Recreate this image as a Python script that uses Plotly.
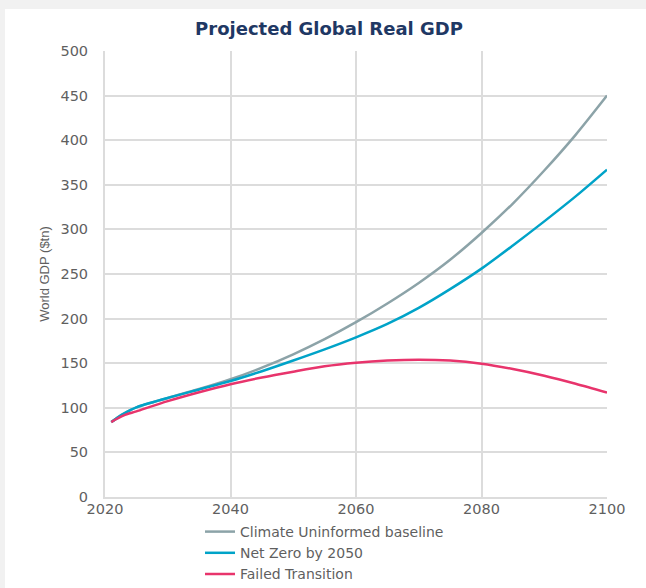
import plotly.graph_objects as go

years = [2021, 2022, 2023, 2025, 2030, 2035, 2040, 2045, 2050, 2055, 2060,
         2065, 2070, 2075, 2080, 2085, 2090, 2095, 2100]
baseline = [84, 89, 93.5, 100.5, 111, 121, 132, 145, 160, 177, 196,
            217, 240, 266, 296, 329, 366, 406, 450]
net_zero = [84, 89, 93.5, 100.5, 111, 120.5, 130, 141, 153, 165.5, 179,
            194, 212, 233, 256, 282, 309, 337, 367]
failed = [84, 88, 91.5, 96, 107.5, 117.5, 126.5, 134, 140.5, 146.5, 150.5,
          153, 154, 153, 149.5, 143.5, 136, 127, 117]

series_names = ["Climate Uninformed baseline", "Net Zero by 2050", "Failed Transition"]
series_values = [baseline, net_zero, failed]
series_colors = ["#8ca3a8", "#00a3c8", "#e8346c"]

x_ticks = [2020, 2040, 2060, 2080, 2100]
y_ticks = [0, 50, 100, 150, 200, 250, 300, 350, 400, 450, 500]

W, H = 646, 588
L, R, T, B = 105, 39, 51, 91
pw, ph = W - L - R, H - T - B


def px_x(px):
    return (px - L) / pw


def px_y(py):
    return (H - B - py) / ph


fig = go.Figure()
for name, vals, col in zip(series_names, series_values, series_colors):
    fig.add_trace(go.Scatter(
        x=years, y=vals, name=name, mode="lines",
        line=dict(color=col, width=2.5, shape="spline", smoothing=0.8),
    ))

tick_font = dict(family="DejaVu Sans", size=14.5, color="#5f5f5f")
grid_col = "#dcdcdc"

fig.update_layout(
    width=W, height=H,
    margin=dict(l=L, r=R, t=T, b=B, autoexpand=False),
    paper_bgcolor="#f1f1f1",
    plot_bgcolor="white",
    title=dict(text="<b>Projected Global Real GDP</b>",
               font=dict(family="DejaVu Sans", size=18, color="#1f3864"),
               x=329 / W, xanchor="center", y=1 - 29 / H, yanchor="middle"),
    xaxis=dict(range=[2020, 2100], tickvals=x_ticks, ticktext=[str(v) for v in x_ticks],
               showgrid=True, gridcolor=grid_col, gridwidth=2,
               showline=True, linecolor=grid_col, linewidth=2,
               zeroline=False, ticks="", tickfont=tick_font,
               ticklabelstandoff=-2, fixedrange=True),
    yaxis=dict(range=[0, 500], tickvals=y_ticks, ticktext=[str(v) for v in y_ticks],
               showgrid=True, gridcolor=grid_col, gridwidth=2,
               showline=True, linecolor=grid_col, linewidth=2,
               zeroline=False, ticks="", tickfont=tick_font,
               ticklabelstandoff=12,
               title=dict(text="World GDP ($tn)", standoff=8,
                          font=dict(family="Liberation Sans", size=13, color="#5f5f5f")),
               fixedrange=True),
    legend=dict(x=px_x(200), xanchor="left", y=px_y(516), yanchor="top",
                orientation="v", bgcolor="rgba(0,0,0,0)",
                font=dict(family="DejaVu Sans", size=14, color="#5f5f5f"),
                itemclick=False, itemdoubleclick=False),
    shapes=[dict(type="rect", xref="paper", yref="paper", layer="below",
                 x0=px_x(5), x1=px_x(W + 20), y0=px_y(H + 20), y1=px_y(9),
                 fillcolor="white", line=dict(width=0))],
    showlegend=True,
)

fig.write_html("out.html", config=dict(displayModeBar=False))
